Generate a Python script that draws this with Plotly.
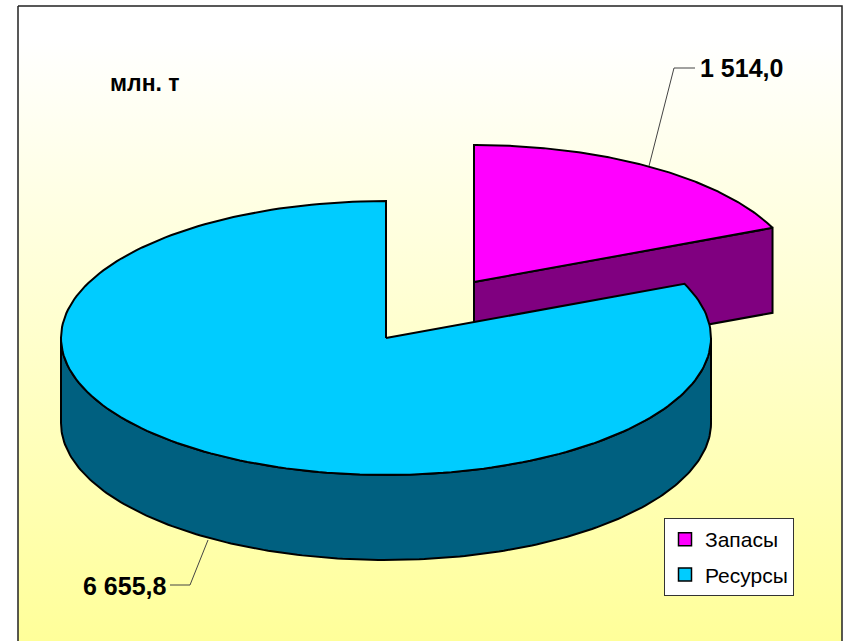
import numpy as np
import plotly.graph_objects as go

# Data
categories = ["Запасы", "Ресурсы"]
values = [1514.0, 6655.8]
value_labels = ["1 514,0", "6 655,8"]
unit_label = "млн. т"
top_colors = ["#FF00FF", "#00CCFF"]
side_colors = ["#800080", "#006080"]

# Pie geometry (pixel-like axes)
RX, RY, DEPTH = 325, 137, 85
BIG_C = (386, 338)
SMALL_C = (474, 282)
LINE = dict(color="black", width=2)

split = 360 * values[0] / sum(values)


def rim(c, a0, a1, dy=0, n=200):
    t = np.radians(np.linspace(a0, a1, n))
    return c[0] + RX * np.sin(t), c[1] - RY * np.cos(t) + dy


def poly(x, y, color, line=LINE):
    return go.Scatter(x=list(x), y=list(y), mode="lines", fill="toself", fillcolor=color,
                      line=line, hoverinfo="skip", showlegend=False)


fig = go.Figure()

# chart frame with vertical gradient
fig.add_trace(go.Scatter(
    x=[18, 842, 842, 18, 18], y=[6, 6, 645, 645, 6], mode="lines", fill="toself",
    fillgradient=dict(type="vertical", colorscale=[[0, "#FFFF99"], [0.95, "#FFFFFF"], [1, "#FFFFFF"]]),
    line=dict(color="#222222", width=1.5), hoverinfo="skip", showlegend=False))

# Small slice: cut face, then top
ex, ey = rim(SMALL_C, split, split, n=1)
fig.add_trace(poly([SMALL_C[0], ex[0], ex[0], SMALL_C[0], SMALL_C[0]],
                   [SMALL_C[1], ey[0], ey[0] + DEPTH, SMALL_C[1] + DEPTH, SMALL_C[1]], side_colors[0]))
x, y = rim(SMALL_C, 0, split)
fig.add_trace(poly(np.r_[SMALL_C[0], x, SMALL_C[0]], np.r_[SMALL_C[1], y, SMALL_C[1]], top_colors[0]))

# Large slice: side wall, then top
x1, y1 = rim(BIG_C, 90, 270)
x2, y2 = rim(BIG_C, 270, 90, DEPTH)
fig.add_trace(poly(np.r_[x1, x2, x1[0]], np.r_[y1, y2, y1[0]], side_colors[1]))
x, y = rim(BIG_C, split, 360)
fig.add_trace(poly(np.r_[BIG_C[0], x, BIG_C[0]], np.r_[BIG_C[1], y, BIG_C[1]], top_colors[1]))

# Leader lines
leader = dict(color="#444444", width=1)
fig.add_trace(go.Scatter(x=[649, 674, 695], y=[166, 68, 68], mode="lines", line=leader,
                         hoverinfo="skip", showlegend=False))
fig.add_trace(go.Scatter(x=[208, 190, 170], y=[540, 585, 585], mode="lines", line=leader,
                         hoverinfo="skip", showlegend=False))

# Legend entries
for name, col in zip(categories, top_colors):
    fig.add_trace(go.Scatter(x=[None], y=[None], mode="markers", name=name, legendgroup=name,
                             marker=dict(symbol="square", size=13, color=col,
                                         line=dict(color="black", width=1.5))))

# Labels
font = dict(family="Liberation Sans", size=25, color="black")
fig.add_annotation(x=698, y=68, text=f"<b>{value_labels[0]}</b>", showarrow=False, xanchor="left", font=font)
fig.add_annotation(x=169, y=586, text=f"<b>{value_labels[1]}</b>", showarrow=False, xanchor="right", font=font)
fig.add_annotation(x=145, y=83, text=f"<b>{unit_label}</b>", showarrow=False,
                   font=dict(family="Liberation Sans", size=23, color="black"))

fig.update_layout(
    width=844, height=641, margin=dict(l=0, r=0, t=0, b=0),
    paper_bgcolor="white", plot_bgcolor="white",
    xaxis=dict(range=[0, 844], visible=False, fixedrange=True),
    yaxis=dict(range=[641, 0], visible=False, fixedrange=True),
    legend=dict(x=664 / 844, y=1 - 518 / 641, xanchor="left", yanchor="top",
                bgcolor="white", bordercolor="#333333", borderwidth=1,
                font=dict(family="Liberation Sans", size=21, color="black"),
                itemwidth=30, traceorder="grouped", tracegroupgap=5),
)

fig.write_html("out.html", config={"displayModeBar": False},
               post_script="document.body.style.margin='0';document.body.style.overflow='hidden';")
